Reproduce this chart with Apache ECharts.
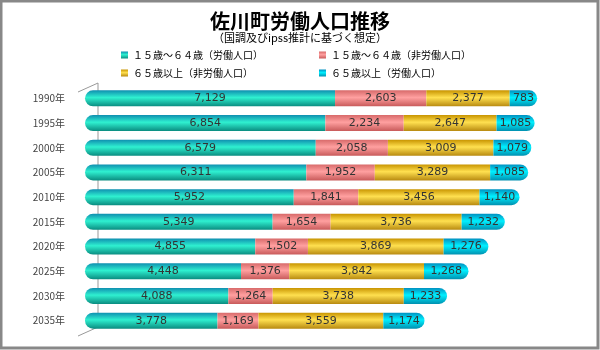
<!DOCTYPE html>
<html>
<head>
<meta charset="utf-8">
<script src="https://cdn.jsdelivr.net/npm/echarts@6/dist/echarts.min.js"></script>
<style>
  html, body { margin: 0; padding: 0; background: #fff; }
  #main { width: 600px; height: 350px; }
</style>
</head>
<body>
<div id="main"></div>
<script>
// init chart
const myChart = echarts.init(document.getElementById('main'));

// data
const years = ['1990年', '1995年', '2000年', '2005年', '2010年', '2015年', '2020年', '2025年', '2030年', '2035年'];
const workAge = [7129, 6854, 6579, 6311, 5952, 5349, 4855, 4448, 4088, 3778];
const workAgeNon = [2603, 2234, 2058, 1952, 1841, 1654, 1502, 1376, 1264, 1169];
const elderNon = [2377, 2647, 3009, 3289, 3456, 3736, 3869, 3842, 3738, 3559];
const elderWork = [783, 1085, 1079, 1085, 1140, 1232, 1276, 1268, 1233, 1174];

const names = [
  '１５歳～６４歳（労働人口）',
  '１５歳～６４歳（非労働人口）',
  '６５歳以上（非労働人口）',
  '６５歳以上（労働人口）',
];

// cylinder-ish gradients
const grad = (a, b, c) => new echarts.graphic.LinearGradient(0, 0, 0, 1, [
  { offset: 0, color: a },
  { offset: 0.45, color: b },
  { offset: 1, color: c },
]);
const fills = [
  grad('#0f8fb0', '#2ff0d0', '#0a8c80'),
  grad('#d86a6a', '#ffa0a0', '#c85a5a'),
  grad('#c89400', '#ffe050', '#b88a10'),
  grad('#0090c0', '#00f0ff', '#0090b0'),
];
const legendColors = ['#1a9fc8', '#f49a9a', '#f8c828', '#00e8f8'];

const values = [workAge, workAgeNon, elderNon, elderWork];

const chartSeries = values.map((v, i) => ({
  name: names[i],
  type: 'bar',
  stack: 'total',
  barWidth: 16,
  data: v,
  itemStyle: {
    color: fills[i],
    borderRadius: i === 0 ? [8, 0, 0, 8] : i === 3 ? [0, 8, 8, 0] : 0,
  },
  label: {
    show: true,
    position: 'inside',
    color: '#333',
    fontSize: 11,
    fontFamily: 'Verdana, DejaVu Sans, sans-serif',
    formatter: (p) => p.value.toLocaleString('en-US'),
  },
}));

const legendFont = { fontSize: 10, color: '#000', fontFamily: 'Noto Sans CJK JP' };

const option = {
  animation: false,
  title: {
    text: '佐川町労働人口推移',
    subtext: '（国調及びipss推計に基づく想定）',
    left: 'center',
    top: 6,
    itemGap: 1,
    textStyle: { fontSize: 20, fontWeight: 'bold', color: '#000', fontFamily: 'Noto Sans CJK JP' },
    subtextStyle: { fontSize: 11, color: '#000', fontFamily: 'Noto Sans CJK JP' },
  },
  legend: [
    {
      data: [names[0], names[1]],
      left: 116, top: 45, itemWidth: 7, itemHeight: 7, itemGap: 56,
      icon: 'rect', textStyle: legendFont,
    },
    {
      data: [names[2], names[3]],
      left: 116, top: 63, itemWidth: 7, itemHeight: 7, itemGap: 66,
      icon: 'rect', textStyle: legendFont,
    },
  ],
  color: legendColors,
  grid: { left: 85, top: 86, width: 491, height: 247 },
  xAxis: { type: 'value', min: 0, max: 14000, show: false },
  yAxis: {
    type: 'category',
    data: years,
    inverse: true,
    axisLine: { show: false },
    axisTick: { show: false },
    axisLabel: {
      margin: 20,
      fontSize: 10,
      color: '#444',
      fontFamily: 'Noto Sans CJK JP',
    },
  },
  graphic: [
    {
      type: 'rect',
      shape: { x: 1, y: 1, width: 597, height: 347 },
      style: { fill: 'none', stroke: '#888', lineWidth: 3 },
      silent: true,
    },
    {
      type: 'polyline',
      shape: { points: [[78, 92], [98, 83], [98, 327], [78, 336]] },
      style: { fill: 'none', stroke: '#999', lineWidth: 1 },
      z: -1,
      silent: true,
    },
  ],
  series: chartSeries,
};

myChart.setOption(option);
</script>
</body>
</html>
